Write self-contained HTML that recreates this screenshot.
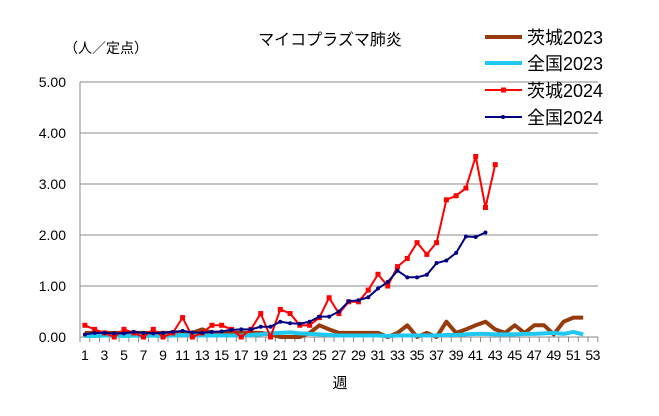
<!DOCTYPE html><html><head><meta charset="utf-8"><style>
body{margin:0;background:#fff;width:659px;height:411px;overflow:hidden}
text{font-family:"Liberation Sans","Noto Sans CJK JP",sans-serif;fill:#000}
</style></head><body>
<svg id="s" width="659" height="411" xmlns="http://www.w3.org/2000/svg"></svg>
<script>
const s=document.getElementById('s');let h='';
const X=i=>80+9.77*(i-0.5), Y=v=>337-51*v;
for(let k=1;k<=5;k++)h+=`<line x1="80" x2="598" y1="${Y(k)}" y2="${Y(k)}" stroke="#888" stroke-width="1"/>`;
h+=`<line x1="80" x2="80" y1="82" y2="337" stroke="#888"/><line x1="80" x2="598" y1="337" y2="337" stroke="#888"/>`;
for(let i=0;i<=53;i++)h+=`<line x1="${80+9.77*i}" x2="${80+9.77*i}" y1="337" y2="342" stroke="#888"/>`;
for(let k=0;k<=5;k++)h+=`<text x="66" y="${Y(k)+5}" font-size="14" text-anchor="end">${k.toFixed(2)}</text>`;
for(let i=1;i<=53;i+=2)h+=`<text x="${X(i)}" y="360" font-size="14" text-anchor="middle" textLength="${i<10?8:15}">${i}</text>`;
const br=[0.08,0.08,0.08,0.08,0.08,0.08,0.08,0.08,0.08,0.08,0.08,0.08,0.15,0.08,0.08,0.08,0.08,0.08,0.08,0.05,0,0,0,0.08,0.23,0.15,0.08,0.08,0.08,0.08,0.08,0,0.08,0.23,0,0.08,0,0.3,0.08,0.15,0.23,0.3,0.15,0.08,0.23,0.08,0.23,0.23,0.05,0.3,0.38,0.38];
const cy=[0.02,0.02,0.03,0.03,0.02,0.03,0.02,0.03,0.02,0.03,0.04,0.03,0.03,0.03,0.03,0.03,0.03,0.04,0.05,0.07,0.08,0.09,0.07,0.06,0.05,0.04,0.03,0.03,0.03,0.03,0.03,0.02,0.03,0.03,0.03,0.03,0.03,0.04,0.04,0.05,0.06,0.06,0.05,0.05,0.05,0.06,0.06,0.07,0.08,0.06,0.1,0.05];
const rd=[0.23,0.15,0.08,0,0.15,0.08,0,0.15,0,0.08,0.38,0,0.08,0.23,0.23,0.15,0,0.15,0.46,0,0.54,0.46,0.23,0.23,0.38,0.77,0.46,0.69,0.69,0.92,1.23,1.0,1.38,1.54,1.85,1.62,1.85,2.69,2.77,2.92,3.54,2.54,3.38];
const nv=[0.05,0.08,0.08,0.07,0.07,0.1,0.08,0.07,0.08,0.1,0.12,0.09,0.08,0.1,0.11,0.14,0.15,0.15,0.2,0.2,0.3,0.27,0.26,0.3,0.4,0.4,0.5,0.7,0.72,0.78,0.95,1.08,1.3,1.17,1.17,1.22,1.45,1.5,1.65,1.97,1.96,2.05];
const pts=a=>a.map((v,i)=>X(i+1).toFixed(1)+','+Y(v).toFixed(1)).join(' ');
h+=`<polyline points="${pts(br)}" fill="none" stroke="#963c0c" stroke-width="4" stroke-linejoin="round"/>`;
h+=`<polyline points="${pts(cy)}" fill="none" stroke="#1ec8f0" stroke-width="4" stroke-linejoin="round"/>`;
h+=`<polyline points="${pts(rd)}" fill="none" stroke="#ff0000" stroke-width="2"/>`;
rd.forEach((v,i)=>h+=`<rect x="${X(i+1)-2.5}" y="${Y(v)-2.5}" width="5" height="5" fill="#ff0000"/>`);
h+=`<polyline points="${pts(nv)}" fill="none" stroke="#000080" stroke-width="2"/>`;
nv.forEach((v,i)=>h+=`<circle cx="${X(i+1)}" cy="${Y(v)}" r="2" fill="#000080"/>`);
h+=`<text x="330" y="45" font-size="16" text-anchor="middle">マイコプラズマ肺炎</text>`;
h+=`<text x="64" y="53" font-size="14">（人／定点）</text>`;
h+=`<text x="340" y="388" font-size="15" text-anchor="middle">週</text>`;
const lg=[["#963c0c",4,"茨城2023",37],["#1ec8f0",4,"全国2023",63],["#ff0000",2,"茨城2024",90],["#000080",2,"全国2024",117]];
lg.forEach(([c,w,t,y],j)=>{h+=`<line x1="485" x2="522" y1="${y}" y2="${y}" stroke="${c}" stroke-width="${w}"/>`;
if(j==2)h+=`<rect x="501" y="${y-2.5}" width="5" height="5" fill="${c}"/>`;if(j==3)h+=`<circle cx="503" cy="${y}" r="2" fill="${c}"/>`;
h+=`<text x="527" y="${y+7}" font-size="18">${t}</text>`});
s.innerHTML=h;
</script></body></html>
